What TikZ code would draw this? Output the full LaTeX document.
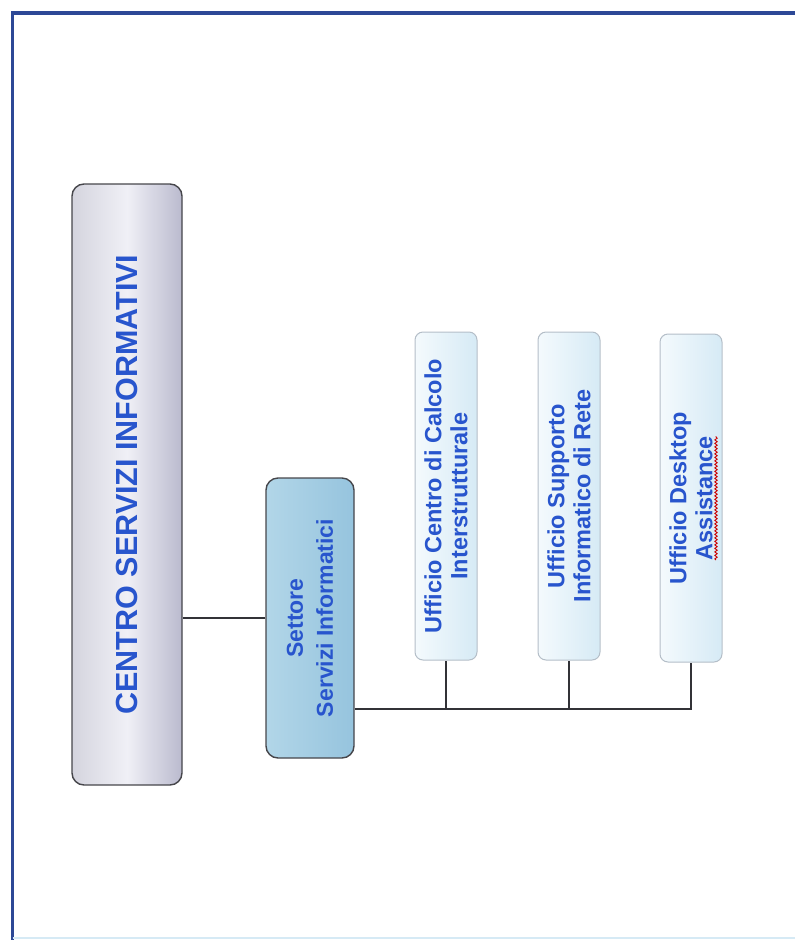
\documentclass[tikz,border=0pt]{standalone}
\usepackage{fontspec}
\setmainfont{Liberation Sans}
\newfontfamily\boldsans{Liberation Sans Bold}
\usetikzlibrary{positioning,decorations.pathmorphing}
\definecolor{frameblue}{RGB}{45,72,150}
\definecolor{textblue}{RGB}{40,85,205}
\definecolor{boxline}{RGB}{70,70,75}
\definecolor{linkgray}{RGB}{50,50,55}
\definecolor{centroL}{RGB}{212,212,222}
\definecolor{centroM}{RGB}{240,240,246}
\definecolor{centroR}{RGB}{186,186,206}
\definecolor{settoreL}{RGB}{178,214,232}
\definecolor{settoreR}{RGB}{150,196,222}
\definecolor{ufficioL}{RGB}{244,250,253}
\definecolor{ufficioR}{RGB}{214,234,245}
\definecolor{ufficioline}{RGB}{180,190,200}

\begin{document}
\begin{tikzpicture}[
    x=1pt, y=-1pt,
    every node/.style={rotate=90, align=center, text=textblue},
    centrobox/.style={draw=boxline, line width=1.4pt, rounded corners=12pt,
        minimum width=601pt, minimum height=110pt,
        left color=centroL, right color=centroR, middle color=centroM,
        font=\boldsans\fontsize{30.5}{36}\selectfont},
    settorebox/.style={draw=boxline, line width=1.4pt, rounded corners=12pt,
        minimum width=280pt, minimum height=88pt,
        left color=settoreL, right color=settoreR,
        font=\boldsans\fontsize{23}{30}\selectfont},
    ufficiobox/.style={draw=ufficioline, line width=1pt, rounded corners=8pt,
        minimum width=328pt, minimum height=62pt,
        left color=ufficioL, right color=ufficioR,
        font=\boldsans\fontsize{23.5}{26}\selectfont},
    link/.style={draw=linkgray, line width=1.3pt}
]
\useasboundingbox (0,0) rectangle (795,940);
% cornice
\draw[frameblue, line width=3.5pt] (12.5,940) -- (12.5,13) -- (795,13);
\draw[ufficioR, line width=2pt] (12.5,938) -- (795,938);

\node[centrobox] (centro) at (127,484.5) {CENTRO SERVIZI INFORMATIVI};
\node[settorebox] (settore) at (310,618) {Settore\\Servizi Informatici};
\node[ufficiobox] (uff1) at (446,496) {Ufficio Centro di Calcolo\\Interstrutturale};
\node[ufficiobox] (uff2) at (569,496) {Ufficio Supporto\\Informatico di Rete};
\node[ufficiobox] (uff3) at (691,498) {Ufficio Desktop\\Assistance};

% collegamenti
\draw[link] (settore.north) -- (settore.north -| centro.south);
\coordinate (bus) at ([yshift=-91pt]settore.south);
\draw[link] (bus) -| (uff3.west);
\draw[link] (bus -| uff1.west) -- (uff1.west);
\draw[link] (bus -| uff2.west) -- (uff2.west);

% segno rosso sotto "Assistance"
\draw[red!80!black, line width=0.9pt, decorate,
    decoration={snake, amplitude=1.2pt, segment length=3.5pt}]
    ([xshift=25pt,yshift=-62pt]uff3.center) -- ([xshift=25pt,yshift=62pt]uff3.center);
\end{tikzpicture}
\end{document}
